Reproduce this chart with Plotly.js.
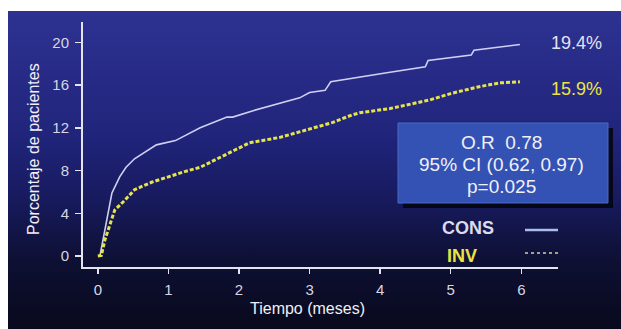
<!DOCTYPE html>
<html>
<head>
<meta charset="utf-8">
<script src="https://cdn.plot.ly/plotly-3.0.1.min.js"></script>
<style>
  html, body { margin: 0; padding: 0; background: #ffffff; }
  #wrap { position: relative; width: 621px; height: 329px; overflow: hidden; }
  #bg { position: absolute; left: 8px; top: 11px; width: 613px; height: 318px;
        background: linear-gradient(to bottom, #2d3292 0%, #272b86 20%, #20247a 40%, #171a5c 60%, #0e1034 78%, #08091c 100%); }
  #chart { position: absolute; left: 0; top: 0; width: 621px; height: 329px; }
</style>
</head>
<body>
<div id="wrap"><div id="bg"></div><div id="chart"></div></div>
<script>
// Data
const consX = [0.03, 0.14, 0.20, 0.31, 0.40, 0.52, 0.76, 0.83, 1.10, 1.45, 1.83, 1.91, 2.20, 2.62, 2.86, 3.00, 3.22, 3.30, 3.57, 3.71, 4.14, 4.64, 4.68, 5.29, 5.33, 5.98];
const consY = [0.0, 4.0, 5.9, 7.4, 8.3, 9.1, 10.1, 10.4, 10.8, 12.0, 13.0, 13.0, 13.6, 14.4, 14.8, 15.3, 15.5, 16.3, 16.6, 16.7, 17.2, 17.7, 18.3, 18.8, 19.25, 19.8];
const invX = [0.0, 0.05, 0.10, 0.17, 0.24, 0.38, 0.52, 0.76, 0.99, 1.23, 1.45, 1.70, 2.15, 2.58, 2.86, 3.33, 3.60, 3.71, 4.14, 4.70, 5.00, 5.37, 5.69, 5.98];
const invY = [0.0, 0.05, 1.5, 3.0, 4.3, 5.2, 6.2, 6.9, 7.4, 7.9, 8.3, 9.1, 10.6, 11.1, 11.6, 12.5, 13.2, 13.4, 13.8, 14.6, 15.2, 15.8, 16.2, 16.3];
const xTicks = [0, 1, 2, 3, 4, 5, 6];
const yTicks = [0, 4, 8, 12, 16, 20];
const seriesNames = ["CONS", "INV"];
const endLabels = ["19.4%", "15.9%"];
const statLines = ["O.R  0.78", "95% CI (0.62, 0.97)", "p=0.025"];
const xTitle = "Tiempo (meses)";
const yTitle = "Porcentaje de pacientes";

const FONT = "Liberation Sans, Arial, sans-serif";

const traces = [
  { x: consX, y: consY, type: "scatter", mode: "lines", name: seriesNames[0],
    line: { color: "#cfd0f2", width: 1.6 }, hoverinfo: "skip" },
  { x: invX, y: invY, type: "scatter", mode: "lines", name: seriesNames[1],
    line: { color: "#e6e44e", width: 3, dash: "4px,2px" }, hoverinfo: "skip" }
];

const axisCommon = {
  showgrid: false, zeroline: false, showline: true, linecolor: "#e4e4ee", linewidth: 2,
  ticks: "outside", tickcolor: "#e4e4ee", tickwidth: 1.5,
  tickfont: { family: FONT, size: 15, color: "#d6d6e2" }
};

// pixel helpers for annotation / shape placement (plot area 83..558 x, 22..267 y)
const px = v => (v - 83) / 475;
const py = v => (267 - v) / 245;

function ann(text, x, y, size, color, extra) {
  return Object.assign({ text: text, xref: "paper", yref: "paper", x: px(x), y: py(y),
    xanchor: "center", yanchor: "middle", showarrow: false,
    font: { family: FONT, size: size, color: color } }, extra || {});
}

const layout = {
  width: 621, height: 329,
  margin: { l: 83, r: 63, t: 22, b: 62 },
  paper_bgcolor: "rgba(0,0,0,0)", plot_bgcolor: "rgba(0,0,0,0)",
  showlegend: false,
  xaxis: Object.assign({}, axisCommon, { range: [-0.21, 6.52], tickvals: xTicks, ticklen: 5, ticklabelstandoff: 3 }),
  yaxis: Object.assign({}, axisCommon, { range: [-1.03, 21.9], tickvals: yTicks, ticklen: 6, ticklabelstandoff: 3 }),
  shapes: [
    { type: "rect", xref: "paper", yref: "paper", layer: "above",
      x0: px(403), x1: px(613), y0: py(208), y1: py(128),
      fillcolor: "rgba(0,0,0,0.75)", line: { width: 0 } },
    { type: "rect", xref: "paper", yref: "paper", layer: "above",
      x0: px(398), x1: px(608), y0: py(203), y1: py(123),
      fillcolor: "#3452b3", line: { color: "#4a68c4", width: 1 } },
    { type: "line", xref: "paper", yref: "paper", layer: "above",
      x0: px(525), x1: px(558), y0: py(230), y1: py(230),
      line: { color: "#a9bde6", width: 2.5 } },
    { type: "line", xref: "paper", yref: "paper", layer: "above",
      x0: px(525), x1: px(558), y0: py(253), y1: py(253),
      line: { color: "#d4d4a0", width: 1.5, dash: "dot" } }
  ],
  annotations: [
    ann(endLabels[0], 576, 43, 18, "#e2e2f0"),
    ann(endLabels[1], 576, 89, 18, "#ebe545"),
    ann(statLines[0], 501, 142, 19, "#f0f0f8"),
    ann(statLines[1], 501, 164, 19, "#f0f0f8"),
    ann(statLines[2], 501, 186, 19, "#f0f0f8"),
    ann("<b>" + seriesNames[0] + "</b>", 468, 228, 18, "#dcdce8"),
    ann("<b>" + seriesNames[1] + "</b>", 462, 256, 18, "#e8e442"),
    ann(xTitle, 307, 308, 16, "#f0f0f6"),
    ann(yTitle, 33, 149, 16, "#f0f0f6", { textangle: -90 })
  ]
};

Plotly.newPlot("chart", traces, layout, { staticPlot: true, displayModeBar: false });
</script>
</body>
</html>
